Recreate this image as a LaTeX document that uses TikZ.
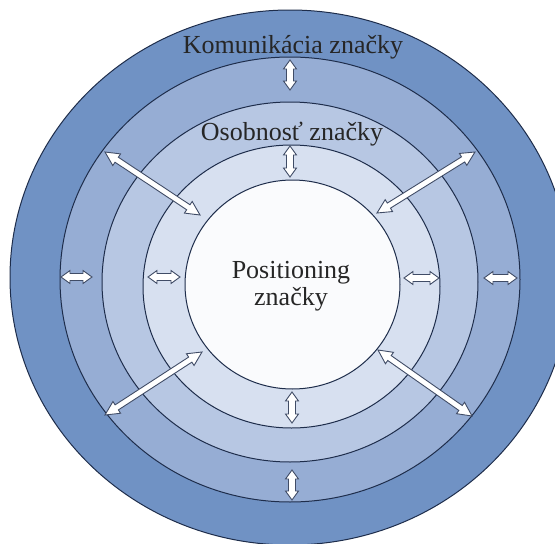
\documentclass[tikz,border=0pt]{standalone}
\usepackage{fontspec}
\setmainfont{Liberation Serif}
\usetikzlibrary{calc}
\definecolor{ringA}{RGB}{112,146,196}
\definecolor{ringB}{RGB}{150,173,212}
\definecolor{ringC}{RGB}{183,199,227}
\definecolor{ringD}{RGB}{215,224,240}
\definecolor{ringE}{RGB}{250,251,253}
\definecolor{ringline}{RGB}{30,45,75}

% double block arrow: from, to, head length, head half width, shaft half width
\newcommand{\biarrow}[5]{%
  \draw[biarrowbox] (#1)
    -- ($(#1)!#3!(#2)!#4!90:(#2)$) -- ($(#1)!#3!(#2)!#5!90:(#2)$)
    -- ($(#2)!#3!(#1)!#5!-90:(#1)$) -- ($(#2)!#3!(#1)!#4!-90:(#1)$)
    -- (#2)
    -- ($(#2)!#3!(#1)!#4!90:(#1)$) -- ($(#2)!#3!(#1)!#5!90:(#1)$)
    -- ($(#1)!#3!(#2)!#5!-90:(#2)$) -- ($(#1)!#3!(#2)!#4!-90:(#2)$)
    -- cycle;}

\begin{document}
\begin{tikzpicture}[x=1pt,y=-1pt,
    ring/.style={draw=ringline,line width=1pt},
    biarrowbox/.style={draw=ringline!85,fill=white,line width=0.9pt,line join=miter},
    ringlabel/.style={font=\fontsize{26}{27}\selectfont,text=black!85,align=center,inner sep=0pt}]
  \useasboundingbox (0,0) rectangle (555,544);
  \clip (0,0) rectangle (555,544);
  % rings, outside in
  \draw[ring,fill=ringA] (290,277.5) ellipse [x radius=280, y radius=267.5];
  \draw[ring,fill=ringB] (290,279.5) ellipse [x radius=230, y radius=222.5];
  \draw[ring,fill=ringC] (290,282) ellipse [x radius=188, y radius=180];
  \draw[ring,fill=ringD] (291.5,286.5) ellipse [x radius=148.5, y radius=141.5];
  \draw[ring,fill=ringE] (292.5,284.5) ellipse [x radius=107.5, y radius=104.5];

  % texts
  \node[ringlabel,anchor=base] (komunikacia) at (293,53) {Komunikácia značky};
  \node[ringlabel,anchor=base] (osobnost) at (292,140) {Osobnosť značky};
  \node[ringlabel] (positioning) at (291,286) {Positioning\\značky};

  % arrow ends
  \coordinate (t1) at (290,60);   \coordinate (t2) at (290,90);
  \coordinate (t3) at (290,146);  \coordinate (t4) at (290,177);
  \coordinate (b1) at (292,392);  \coordinate (b2) at (292,423);
  \coordinate (b3) at (292,470);  \coordinate (b4) at (292,500);
  \coordinate (l1) at (61,277);   \coordinate (l2) at (92,277);
  \coordinate (l3) at (148,277);  \coordinate (l4) at (180,277);
  \coordinate (r1) at (404,278);  \coordinate (r2) at (439,278);
  \coordinate (r3) at (484,278);  \coordinate (r4) at (517,278);
  \coordinate (ul1) at (105,152); \coordinate (ul2) at (200,215);
  \coordinate (ur1) at (475,152); \coordinate (ur2) at (377,213);
  \coordinate (dl1) at (105,415); \coordinate (dl2) at (202,352);
  \coordinate (dr1) at (472,416); \coordinate (dr2) at (378,350);

  % short arrows
  \foreach \a/\b in {t1/t2,t3/t4,b1/b2,b3/b4,l1/l2,l3/l4,r1/r2,r3/r4}
    {\biarrow{\a}{\b}{9pt}{6.5pt}{3.5pt}}
  % long arrows
  \foreach \a/\b in {ul1/ul2,ur1/ur2,dl1/dl2,dr1/dr2}
    {\biarrow{\a}{\b}{14pt}{7pt}{3pt}}
\end{tikzpicture}
\end{document}
